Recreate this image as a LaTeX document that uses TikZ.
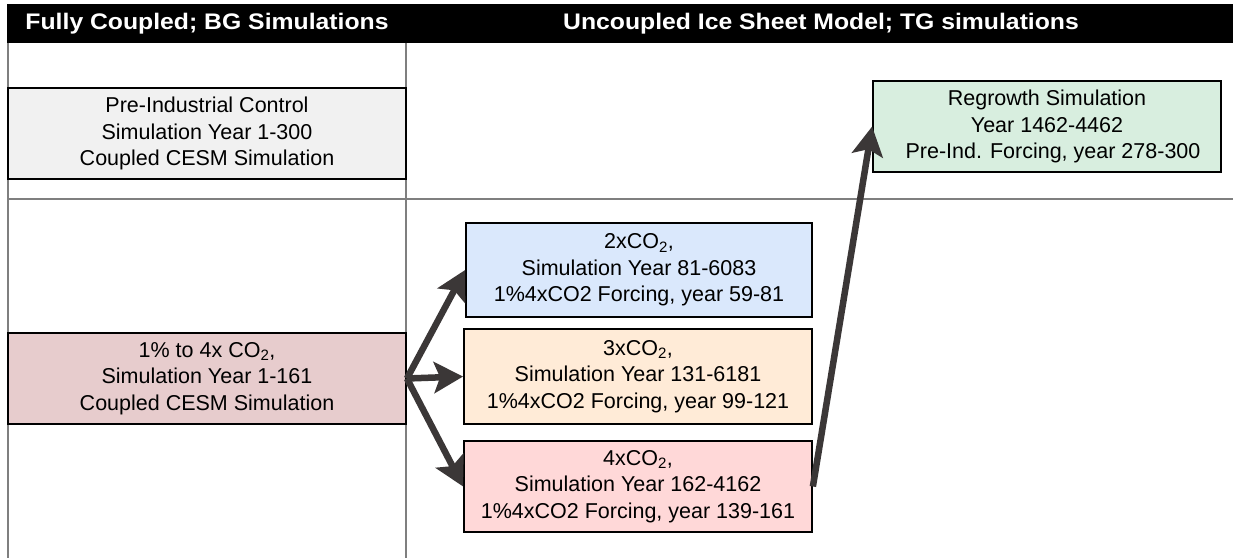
\documentclass[tikz,border=0pt]{standalone}
\usepackage{fontspec}
\setmainfont{Liberation Sans}
\usetikzlibrary{arrows.meta}
\definecolor{gridc}{HTML}{7F7F7F}
\definecolor{arrc}{HTML}{3B3737}
\definecolor{fpre}{HTML}{F1F1F1}
\definecolor{fred}{HTML}{E7CCCD}
\definecolor{fblue}{HTML}{DAE8FC}
\definecolor{forange}{HTML}{FFEBD7}
\definecolor{fpink}{HTML}{FFD8D8}
\definecolor{fgreen}{HTML}{D8EEDF}
\tikzset{
  simbox/.style={draw=black, line width=1.8pt, align=center, inner sep=0pt,
    font=\fontsize{21.5}{26.6}\selectfont, minimum height=91pt},
  header/.style={text=white, font=\fontsize{22.5}{26}\selectfont\bfseries, inner sep=0pt},
  gridline/.style={draw=gridc, line width=1.5pt},
  arr/.style={draw=arrc, line width=6.5pt, -{Stealth[length=29pt 0,width=31pt 0,inset=6pt]}}
}
\begin{document}
\begin{tikzpicture}[x=1pt,y=-1pt]
\useasboundingbox (0,0) rectangle (1233,558);
\fill[white] (0,0) rectangle (1233,558);
% table grid
\coordinate (tl) at (8,43);
\coordinate (bl) at (8,558);
\coordinate (dt) at (406,43);
\coordinate (db) at (406,558);
\coordinate (hl) at (8,199);
\coordinate (hr) at (1233,199);
\draw[gridline] (tl) -- (bl);
\draw[gridline] (dt) -- (db);
\draw[gridline] (hl) -- (hr);
% header bar
\fill[black] (7,4) rectangle (1233,43);
\node[header] (h1) at (207,24) {\scalebox{1.1}[1]{Fully Coupled; BG Simulations}};
\node[header] (h2) at (821,24) {\scalebox{1.1}[1]{Uncoupled Ice Sheet Model; TG simulations}};
% boxes
\node[simbox, fill=fpre, minimum width=398pt] (pre) at (207,133.5)
  {Pre-Industrial Control\\Simulation Year 1-300\\Coupled CESM Simulation};
\node[simbox, fill=fred, minimum width=398pt] (onepct) at (207,378.5)
  {1\% to 4x CO\textsubscript{2},\\Simulation Year 1-161\\Coupled CESM Simulation};
\node[simbox, fill=fblue, minimum width=346pt, minimum height=94pt] (two) at (639,270)
  {2xCO\textsubscript{2},\\Simulation Year 81-6083\\1\%4xCO2 Forcing, year 59-81};
\node[simbox, fill=forange, minimum width=348pt, minimum height=95pt] (three) at (638,376.5)
  {3xCO\textsubscript{2},\\Simulation Year 131-6181\\1\%4xCO2 Forcing, year 99-121};
\node[simbox, fill=fpink, minimum width=348pt] (four) at (638,486.5)
  {4xCO\textsubscript{2},\\Simulation Year 162-4162\\1\%4xCO2 Forcing, year 139-161};
\node[simbox, fill=fgreen, minimum width=348pt] (regrow) at (1047,126.5)
  {Regrowth Simulation\\Year 1462-4462\\\hspace*{12pt}Pre-Ind. Forcing, year 278-300};
% arrows
\draw[arr] (onepct.east) -- (two.west);
\draw[arr] (onepct.east) -- (three.west);
\draw[arr] (onepct.east) -- (four.west);
\draw[arr] (four.east) -- (regrow.west);
\end{tikzpicture}
\end{document}
